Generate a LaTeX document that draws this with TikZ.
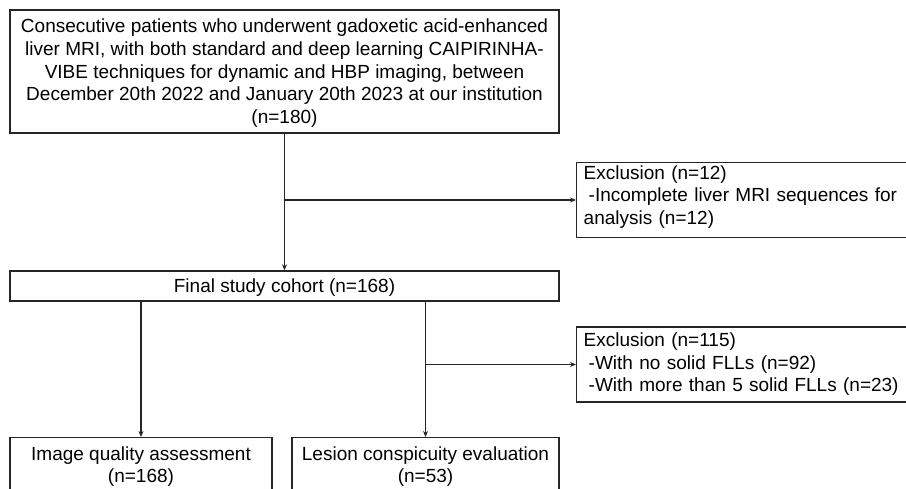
\documentclass[tikz,border=0pt]{standalone}
\usepackage{fontspec}
\setmainfont{Liberation Sans}
\usetikzlibrary{arrows.meta}
\begin{document}
\begin{tikzpicture}[x=1pt,y=-1pt,
  box/.style={draw=black!85, line width=1.4pt, inner sep=0pt, font=\fontsize{19}{22.7}\selectfont},
  exbox/.style={draw=black!85, line width=1.4pt, inner xsep=7pt, inner ysep=6pt, text width=326pt, align=left, font=\fontsize{19}{22.5}\selectfont},
  conn/.style={draw=black!85, line width=1.3pt, -{Stealth[length=6pt,width=5pt]}}]
\useasboundingbox (0,0) rectangle (906,488);
\node[box, minimum width=549pt, minimum height=123pt, align=center] (top) at (284.5,71.5)
  {\rule{0pt}{17pt}Consecutive patients who underwent gadoxetic acid-enhanced\\
   liver MRI, with both standard and deep learning CAIPIRINHA-\\
   VIBE techniques for dynamic and HBP imaging, between\\
   December 20th 2022 and January 20th 2023 at our institution\\
   (n=180)};
\node[box, minimum width=549pt, minimum height=30pt, text depth=0pt] (final) at (284.5,286) {Final study cohort (n=168)};
\node[exbox, anchor=west, inner ysep=3pt] (ex1) at (576,200)
  {Exclusion (n=12)\\
   \hspace*{5pt}-Incomplete liver MRI sequences for\\
   analysis (n=12)\rule[-10pt]{0pt}{10pt}};
\node[exbox, anchor=west] (ex2) at (576,364.5)
  {Exclusion (n=115)\\
   \hspace*{5pt}-With no solid FLLs (n=92)\\
   \hspace*{5pt}-With more than 5 solid FLLs (n=23)};
\node[box, anchor=north, minimum width=262pt, minimum height=58pt, align=center] (iqa) at (141,437)
  {Image quality assessment\\(n=168)};
\node[box, anchor=north, minimum width=267pt, minimum height=58pt, align=center] (lce) at (425.5,437)
  {Lesion conspicuity evaluation\\(n=53)};
\draw[conn] (top.south) -- (final.north);
\coordinate (b1) at (top.south |- ex1.west);
\draw[conn] (b1) -- (ex1.west);
\draw[conn] (final.south -| iqa.north) -- (iqa.north);
\draw[conn] (final.south -| lce.north) -- (lce.north);
\coordinate (b2) at (lce.north |- ex2.west);
\draw[conn] (b2) -- (ex2.west);
\end{tikzpicture}
\end{document}
